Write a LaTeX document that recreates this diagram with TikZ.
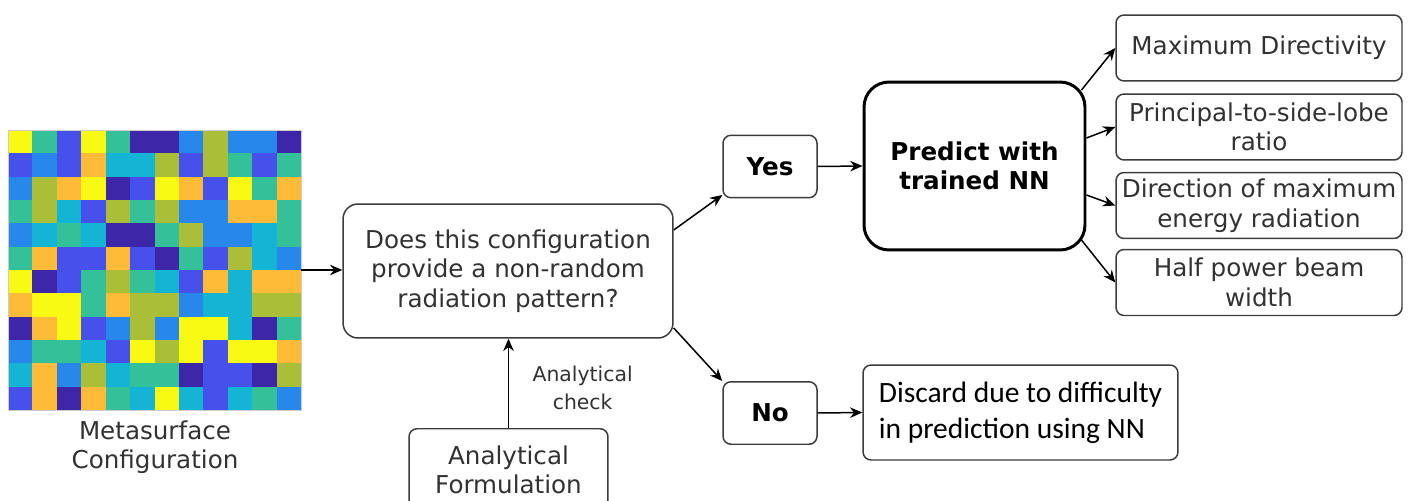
\documentclass[tikz,border=0pt]{standalone}
\usepackage{fontspec}
\setmainfont{DejaVu Sans}
\newfontfamily\calibrifont{Carlito}
\usetikzlibrary{arrows.meta}
\pgfdeclarelayer{bg}
\pgfsetlayers{bg, main}

% parula cell colours
\definecolor{cD}{RGB}{62,38,168}
\definecolor{cB}{RGB}{70,80,235}
\definecolor{cL}{RGB}{40,135,235}
\definecolor{cC}{RGB}{20,180,212}
\definecolor{cT}{RGB}{52,192,152}
\definecolor{cG}{RGB}{170,190,55}
\definecolor{cO}{RGB}{253,187,56}
\definecolor{cY}{RGB}{249,250,20}
\definecolor{boxline}{RGB}{60,60,60}
\definecolor{boxtext}{RGB}{50,50,50}

\begin{document}
\begin{tikzpicture}[x=0.02cm,y=-0.02cm,
    box/.style={draw=boxline, line width=0.85pt, rounded corners=0.16cm, fill=white,
        inner sep=0pt, align=center, text=boxtext, font=\fontsize{14}{16.8}\selectfont},
    answer/.style={box, text=black, font=\fontsize{14}{16.8}\selectfont\bfseries,
        minimum width=1.88cm, minimum height=1.25cm},
    result/.style={box, minimum width=5.72cm, minimum height=1.32cm},
    arr/.style={-{Stealth[length=7pt,width=6pt]}, line width=0.85pt}]

        \useasboundingbox (0,0) rectangle (1408,500);

        %metasurface
        \node[draw=black!20, line width=0.4pt, inner sep=0pt,
            minimum width=5.86cm, minimum height=5.6cm] (meta) at (154.5,270) {};
        \begin{pgfonlayer}{bg}
            \foreach \row [count=\j from 0] in {
                    {Y,T,B,Y,T,D,D,L,G,L,L,D},
                    {B,L,B,O,C,C,G,B,G,T,B,T},
                    {L,G,O,Y,D,B,Y,O,B,Y,T,O},
                    {T,G,C,B,G,T,G,L,L,O,O,T},
                    {L,C,T,C,D,D,T,G,L,L,C,T},
                    {T,O,B,B,O,B,D,T,B,G,C,L},
                    {Y,D,B,T,G,T,C,B,O,C,O,O},
                    {O,Y,Y,T,O,G,G,L,C,C,G,G},
                    {D,O,Y,B,L,G,L,Y,Y,C,D,T},
                    {L,T,T,C,B,Y,G,Y,B,Y,Y,O},
                    {C,O,L,G,C,T,T,D,B,B,D,G},
                    {B,O,D,O,T,C,Y,C,B,C,T,L}}
                \foreach \c [count=\i from 0] in \row
                    \fill[c\c] (8+\i*24.42,130+\j*23.33) rectangle ++(24.7,23.6);
        \end{pgfonlayer}
        \node[align=center, text=boxtext, font=\fontsize{14}{16.5}\selectfont]
            (metalabel) at (155,447) {Metasurface\\Configuration};

        %boxes
        \node[box, rounded corners=0.3cm, minimum width=6.6cm, minimum height=2.68cm]
            (dec) at (508,271) {Does this configuration\\provide a non-random\\radiation pattern?};
        \node[box, anchor=north, minimum width=3.98cm, minimum height=1.64cm]
            (form) at (508.5,428) {Analytical\\Formulation};
        \node[answer] (yes) at (770,166.5) {Yes};
        \node[answer] (no) at (770,413) {No};
        \node[box, draw=black, line width=1.7pt, rounded corners=0.5cm, text=black,
            font=\fontsize{14}{16.8}\selectfont\bfseries,
            minimum width=4.42cm, minimum height=3.36cm] (pred) at (974.5,166) {Predict with\\trained NN};
        \node[result] (r1) at (1259,48) {Maximum Directivity};
        \node[result] (r2) at (1259,127) {Principal-to-side-lobe\\ratio};
        \node[result] (r3) at (1259,205.5) {Direction of maximum\\energy radiation};
        \node[result] (r4) at (1259,282.5) {Half power beam\\width};
        \node[box, align=left, text=black, font=\calibrifont\fontsize{16.8}{20.5}\selectfont,
            minimum width=6.3cm, minimum height=1.9cm] (disc) at (1020.5,412.5)
            {Discard due to difficulty\\in prediction using NN};

        %lines
        \draw[arr] (meta.east) -- (meta.east -| dec.west);
        \draw[arr] (form.north) -- (form.north |- dec.south)
            node[pos=0.45, right=0.35cm, align=center, text=boxtext,
                font=\fontsize{11.6}{15.9}\selectfont] (check) {Analytical\\check};
        \draw[arr] ([yshift=0.82cm]dec.east) -- ([yshift=-0.57cm]yes.west);
        \draw[arr] ([yshift=-1.14cm]dec.east) -- (no.north west);
        \draw[arr] (yes.east) -- (pred.west);
        \draw[arr] (no.east) -- (disc.west);
        \draw[arr] ([xshift=-0.1cm,yshift=1.52cm]pred.east) -- (r1.west);
        \draw[arr] ([yshift=0.56cm]pred.east) -- (r2.west);
        \draw[arr] ([yshift=-0.58cm]pred.east) -- (r3.west);
        \draw[arr] ([xshift=-0.1cm,yshift=-1.48cm]pred.east) -- (r4.west);

\end{tikzpicture}
\end{document}
